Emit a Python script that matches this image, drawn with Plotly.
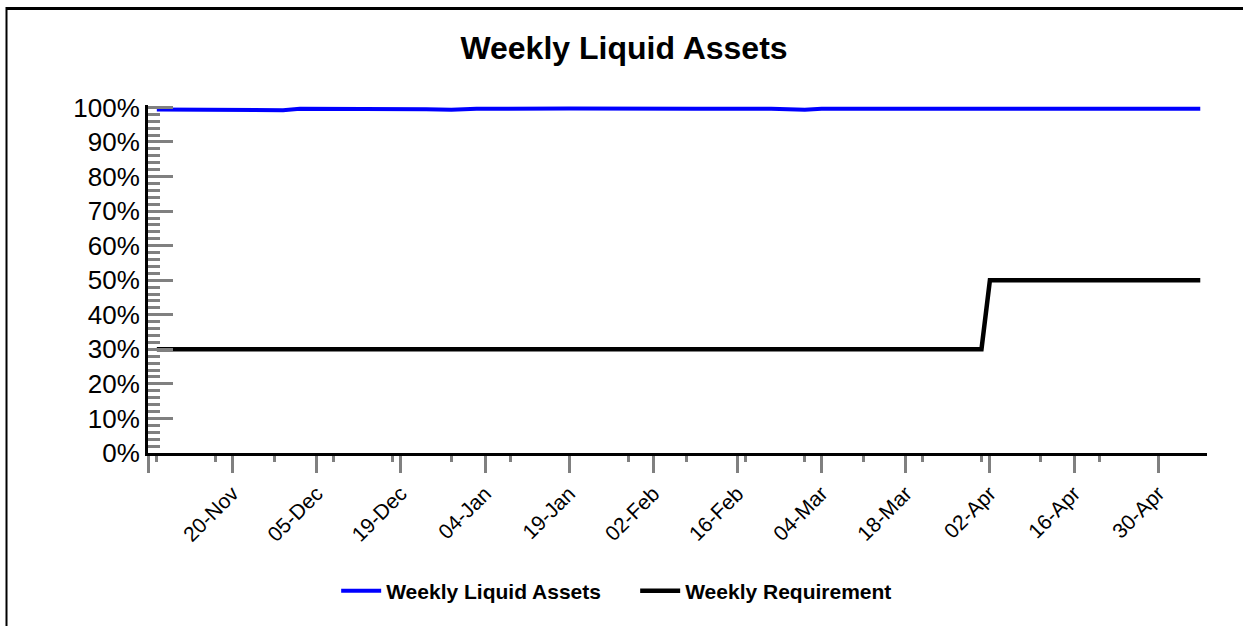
import pandas as pd
import plotly.graph_objects as go

# ---------------- data ----------------
start_date = "2023-11-07"
end_date = "2024-05-07"
holidays = ["2023-11-23", "2023-12-25", "2024-01-01", "2024-01-15",
            "2024-02-19", "2024-03-29"]

tick_dates = ["2023-11-20", "2023-12-05", "2023-12-19", "2024-01-04",
              "2024-01-19", "2024-02-02", "2024-02-16", "2024-03-04",
              "2024-03-18", "2024-04-02", "2024-04-16", "2024-04-30"]
tick_labels = ["20-Nov", "05-Dec", "19-Dec", "04-Jan", "19-Jan", "02-Feb",
               "16-Feb", "04-Mar", "18-Mar", "02-Apr", "16-Apr", "30-Apr"]

wla_dates = ["2023-11-07", "2023-11-17", "2023-11-29", "2023-12-01",
             "2023-12-15", "2023-12-22", "2023-12-28", "2024-01-03",
             "2024-01-19", "2024-02-02", "2024-02-06", "2024-02-09",
             "2024-02-23", "2024-02-29", "2024-03-04", "2024-03-18",
             "2024-03-27", "2024-04-01", "2024-04-03", "2024-04-12",
             "2024-04-19", "2024-04-26", "2024-05-01", "2024-05-07"]
wla_values = [99.4, 99.3, 99.2, 99.6,
              99.6, 99.5, 99.3, 99.6,
              99.7, 99.5, 99.4, 99.6,
              99.6, 99.3, 99.6, 99.6,
              99.5, 99.4, 99.6, 99.6,
              99.5, 99.4, 99.4, 99.6]

req_dates = ["2023-11-07", "2024-04-01", "2024-04-02", "2024-05-07"]
req_values = [30, 30, 50, 50]

# business-day categories (evenly spaced on the axis)
bdays = pd.bdate_range(start_date, end_date, freq="C", holidays=holidays)
day_list = [d.strftime("%Y-%m-%d") for d in bdays]
pos = {d: i for i, d in enumerate(day_list)}

wla_x = [pos[d] for d in wla_dates]
req_x = [pos[d] for d in req_dates]
tick_x = [pos[d] for d in tick_dates]

FONT = "Arial, Liberation Sans, sans-serif"
GRAY = "#808080"

fig = go.Figure()
fig.add_trace(go.Scatter(x=wla_x, y=wla_values, mode="lines",
                         name="Weekly Liquid Assets",
                         line=dict(color="#0000FF", width=4)))
fig.add_trace(go.Scatter(x=req_x, y=req_values, mode="lines",
                         name="Weekly Requirement",
                         line=dict(color="#000000", width=4.5)))

x0, x1 = -1.05, len(day_list) - 0.2
ML, MR, MT, MB = 148, 36, 105, 173
W, H = 1243, 626
pw = W - ML - MR
ph = H - MT - MB

def px_to_paper_x(px):
    return (px - ML) / pw

def py_to_paper_y(py):
    return (H - MB - py) / ph

fig.update_layout(
    width=W, height=H,
    margin=dict(l=ML, r=MR, t=MT, b=MB),
    paper_bgcolor="white", plot_bgcolor="white",
    title=dict(text="Weekly Liquid Assets", x=0.502, xanchor="center",
               y=1 - 48 / H, yanchor="middle",
               font=dict(family=FONT, size=32, color="black", weight="bold")),
    showlegend=True,
    legend=dict(orientation="h", xref="container", yref="container",
                x=0.511, xanchor="center", y=1 - 591 / H, yanchor="middle",
                font=dict(family=FONT, size=21, color="black", weight="bold"),
                itemwidth=40, entrywidth=244, bgcolor="rgba(0,0,0,0)"),
    xaxis=dict(range=[x0, x1], tickmode="array",
               tickvals=[x0] + tick_x, ticktext=[""] + tick_labels,
               tickangle=-45, ticks="outside", ticklen=17, tickwidth=3,
               tickcolor=GRAY, showline=True, linecolor="black", linewidth=3,
               showgrid=False, zeroline=False,
               tickfont=dict(family=FONT, size=21, color="black"),
               minor=dict(ticks="outside", ticklen=6, tickwidth=3,
                          tickcolor=GRAY, dtick=7, tick0=0, showgrid=False)),
    yaxis=dict(range=[0, 100.7], tickmode="linear", tick0=0, dtick=10,
               ticksuffix="%", ticks="inside", ticklen=25, tickwidth=3,
               tickcolor=GRAY, showline=True, linecolor="black", linewidth=3,
               showgrid=False, zeroline=False,
               tickfont=dict(family=FONT, size=26, color="black"),
               minor=dict(ticks="inside", ticklen=12, tickwidth=3,
                          tickcolor=GRAY, dtick=2, showgrid=False)),
)

# outer frame (top and left edges visible in the reference)
fig.add_shape(type="line", xref="paper", yref="paper",
              x0=px_to_paper_x(6), x1=px_to_paper_x(1260),
              y0=py_to_paper_y(8.5), y1=py_to_paper_y(8.5),
              line=dict(color="black", width=3))
fig.add_shape(type="line", xref="paper", yref="paper",
              x0=px_to_paper_x(6.5), x1=px_to_paper_x(6.5),
              y0=py_to_paper_y(7), y1=py_to_paper_y(640),
              line=dict(color="black", width=2))

fig.write_html("out.html", config={"displayModeBar": False},
               post_script="document.body.style.margin='0';")
